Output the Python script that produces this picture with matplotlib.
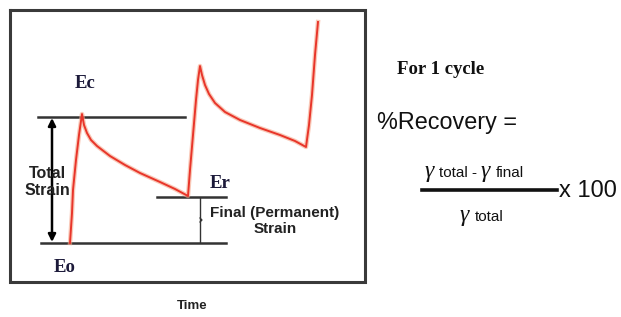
import numpy as np
import matplotlib.pyplot as plt
import matplotlib

matplotlib.rcParams['font.family'] = ['Liberation Sans', 'DejaVu Sans']

# strain curve (x = time, y = strain in image units)
time = [70, 71, 72, 73, 76, 79, 82, 84, 87, 91, 97, 110, 125, 140, 160, 175, 188,
        190, 193, 196, 198, 200, 202, 205, 209, 215, 225, 240, 260, 280, 295, 306,
        309, 312, 315, 318]
strain = [243, 228, 213, 190, 160, 135, 114, 125, 133, 140, 146, 156, 165, 173, 182, 189, 196,
          170, 135, 100, 80, 66, 75, 85, 94, 103, 112, 120, 128, 135, 141, 147,
          125, 95, 55, 22]

# reference levels
level_peak = 117
level_final = 197
level_start = 243

fig = plt.figure(figsize=(6.21, 3.17), dpi=100, facecolor='white')
ax = fig.add_axes([0, 0, 1, 1])
ax.set_xlim(0, 621)
ax.set_ylim(317, 0)
ax.axis('off')

# frame
ax.plot([10, 365, 365, 10, 10], [10, 10, 282, 282, 10], color='#3a3a3a', lw=2.2,
        solid_joinstyle='miter')

# horizontal level lines
ax.plot([38, 185], [level_peak, level_peak], color='#333333', lw=1.8)
ax.plot([157, 226], [level_final, level_final], color='#333333', lw=1.8)
ax.plot([41, 226], [level_start, level_start], color='#333333', lw=1.8)

# curve with a soft halo
ax.plot(time, strain, color='#f6a58a', lw=3.2, alpha=0.6, solid_joinstyle='round')
ax.plot(time, strain, color='#e8352a', lw=1.4, solid_joinstyle='round')

# total strain arrow
ax.annotate('', xy=(52, level_peak + 1), xytext=(52, level_start - 1),
            arrowprops=dict(arrowstyle='<|-|>', color='black', lw=1.8,
                            mutation_scale=11, shrinkA=0, shrinkB=0))

# final strain bracket
ax.plot([200, 200], [level_final + 1, level_start - 1], color='#333333', lw=1.0)
ax.plot([200, 202, 200], [218, 220, 222], color='#333333', lw=0.9)

# labels on the chart
lab = dict(family=['Liberation Serif', 'DejaVu Serif'], fontweight='bold',
           color='#1c1a3a', fontsize=13.5, ha='center', va='center')
ax.text(85, 83, 'Ec', **lab)
ax.text(220, 183, 'Er', **lab)
ax.text(65, 268, 'Eo', **lab)

ax.text(47, 182, 'Total\nStrain', fontsize=11.5, fontweight='bold', color='#222222',
        ha='center', va='center', linespacing=1.15)
ax.text(275, 221, 'Final (Permanent)\nStrain', fontsize=11, fontweight='bold',
        color='#222222', ha='center', va='center', linespacing=1.15)

ax.text(192, 306, 'Time', fontsize=9.5, fontweight='bold', color='#222222',
        ha='center', va='center')

# formula on the right
ax.text(397, 70, 'For 1 cycle', family=['Liberation Serif', 'DejaVu Serif'],
        fontweight='bold', fontsize=13.5, color='#111111', ha='left', va='center')
ax.text(377, 123, '%Recovery =', fontsize=16.8, color='#111111', ha='left', va='center')

gam = dict(family=['Liberation Serif', 'DejaVu Serif'], style='italic',
           fontsize=17, color='#111111', ha='left', va='baseline')
sub = dict(fontsize=11, color='#111111', ha='left', va='baseline')
ax.text(425, 177, '\u03b3', **gam)
ax.text(439, 177, 'total -', **sub)
ax.text(481, 177, '\u03b3', **gam)
ax.text(496, 177, 'final', **sub)

ax.plot([422, 557], [190, 190], color='#111111', lw=2.6)
ax.text(559, 191, 'x 100', fontsize=17, color='#111111', ha='left', va='center')

ax.text(460, 221, '\u03b3', **gam)
ax.text(475, 221, 'total', **sub)

plt.savefig('out.png', dpi=100, facecolor='white')
